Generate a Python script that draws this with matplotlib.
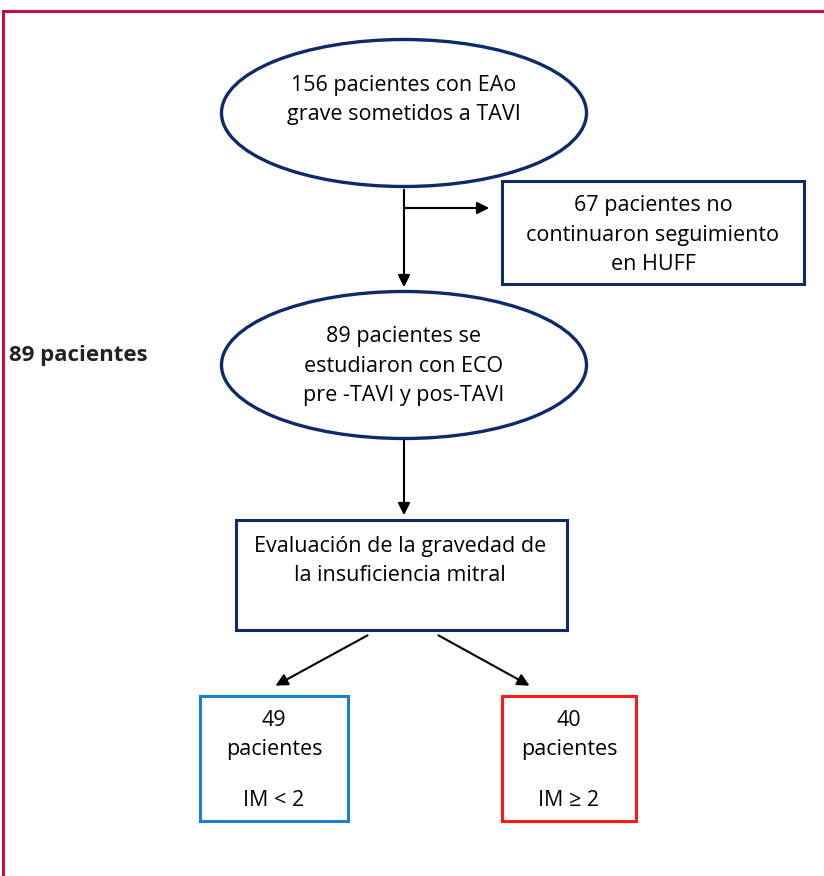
import matplotlib.pyplot as plt
from matplotlib.patches import Ellipse, Rectangle

plt.rcParams['font.family'] = ['Open Sans', 'DejaVu Sans']

# textos del diagrama
textos_elipses = ['156 pacientes con EAo\ngrave sometidos a TAVI',
                  '89 pacientes se\nestudiaron con ECO\npre -TAVI y pos-TAVI']
texto_excluidos = '67 pacientes no\ncontinuaron seguimiento\nen HUFF'
texto_evaluacion = 'Evaluación de la gravedad de\nla insuficiencia mitral'
grupos_n = [49, 40]
grupos_im = ['IM < 2', 'IM ≥ 2']
total_texto = '89 pacientes'

azul_osc = '#0f2a6b'
colores_grupos = ['#1a7fd0', '#ff1a1a']

fig = plt.figure(figsize=(8.24, 8.76), dpi=100)
ax = fig.add_axes([0, 0, 1, 1])
ax.set_xlim(0, 824)
ax.set_ylim(876, 0)
ax.axis('off')

fs = 15.5
ls = 1.55

# marco exterior
ax.plot([3, 3, 824], [876, 11, 11], color='#c0103e', lw=2.2, solid_joinstyle='miter')

flecha = dict(arrowstyle='-|>', color='black', lw=1.5, mutation_scale=18)

# elipses
for cy, ty, txt in zip([113, 365], [100, 366], textos_elipses):
    ax.add_patch(Ellipse((404, cy), 365, 147, fill=False, ec=azul_osc, lw=2.4))
    ax.text(404, ty, txt, ha='center', va='center', fontsize=fs, linespacing=ls)

# flechas verticales
ax.annotate('', xy=(404, 290), xytext=(404, 187), arrowprops=flecha)
ax.plot([404, 470], [208, 208], color='black', lw=1.5)
ax.annotate('', xy=(492, 208), xytext=(404, 208), arrowprops=flecha)
ax.annotate('', xy=(404, 518), xytext=(404, 438), arrowprops=flecha)

# caja de excluidos
ax.add_patch(Rectangle((502, 181), 302, 103, fill=False, ec=azul_osc, lw=2.2))
ax.text(653, 235, texto_excluidos, ha='center', va='center', fontsize=fs, linespacing=ls)

# caja de evaluacion
ax.add_patch(Rectangle((236, 520), 331, 110, fill=False, ec=azul_osc, lw=2.2))
ax.text(400, 561, texto_evaluacion, ha='center', va='center', fontsize=fs, linespacing=ls)

# flechas diagonales
ax.annotate('', xy=(273, 687), xytext=(370, 634), arrowprops=flecha)
ax.annotate('', xy=(532, 687), xytext=(436, 634), arrowprops=flecha)

# cajas de grupos
for x0, w, n, im, c in zip([200, 502], [148, 134], grupos_n, grupos_im, colores_grupos):
    ax.add_patch(Rectangle((x0, 696), w, 125, fill=False, ec=c, lw=2.2))
    cx = x0 + w / 2
    ax.text(cx, 720, str(n), ha='center', va='center', fontsize=fs)
    ax.text(cx, 750, 'pacientes', ha='center', va='center', fontsize=fs)
    ax.text(cx, 800, im, ha='center', va='center', fontsize=fs)

ax.text(9, 356, total_texto, ha='left', va='center', fontsize=16, fontweight='bold',
        color='#222222')

fig.savefig('out.png', dpi=100)
